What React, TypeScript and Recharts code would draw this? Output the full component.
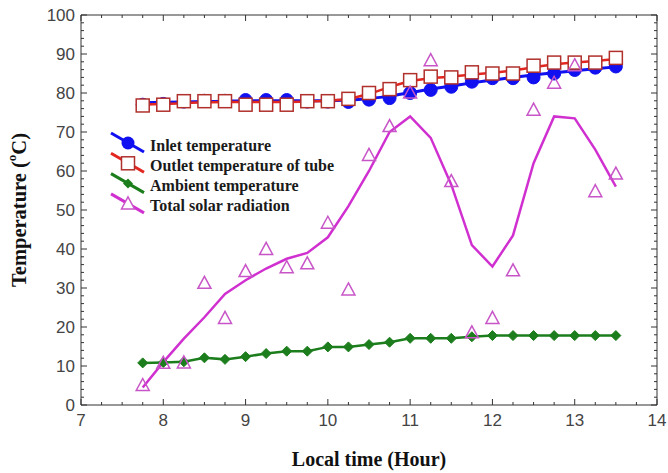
import React from 'react';
import { LineChart, Line, XAxis, YAxis, ReferenceArea, Label } from 'recharts';

const hours = [7.75, 8, 8.25, 8.5, 8.75, 9, 9.25, 9.5, 9.75, 10, 10.25, 10.5, 10.75, 11, 11.25, 11.5, 11.75, 12, 12.25, 12.5, 12.75, 13, 13.25, 13.5];

const inletPts = [77, 77.2, 77.8, 78, 78, 78.2, 78.2, 78.2, 77.8, 77.8, 77.7, 78.3, 78.7, 80, 80.8, 81.6, 82.9, 83.8, 83.8, 84, 85, 85.9, 86.5, 86.8];
const inletFit = [77.5, 77.6, 77.7, 77.8, 77.9, 78, 78, 78, 78, 78, 78.2, 78.6, 79.2, 80.1, 81, 81.8, 82.6, 83.3, 84, 84.6, 85.2, 85.7, 86.2, 86.7];

const outletPts = [76.8, 77, 77.9, 77.9, 77.9, 77, 77, 77, 77.9, 77.9, 78.5, 80, 81, 83.3, 84.2, 84, 85.3, 85, 85, 87, 87.8, 87.8, 87.8, 89];
const outletFit = [77, 77.2, 77.4, 77.6, 77.7, 77.7, 77.7, 77.7, 77.8, 78, 78.5, 79.8, 81.5, 83, 83.8, 84.2, 84.7, 85.2, 85.8, 86.6, 87.3, 87.8, 88.2, 88.7];

const ambient = [10.8, 10.9, 11.1, 12.1, 11.7, 12.4, 13.2, 13.8, 13.8, 14.9, 14.9, 15.5, 16.1, 17.1, 17.1, 17.1, 17.5, 17.8, 17.8, 17.8, 17.8, 17.8, 17.8, 17.8];

const solarPts = [5, 10.7, 10.8, 31.2, 22.2, 34.2, 39.9, 35.2, 36.2, 46.6, 29.5, 64, 71.4, 80, 88.3, 57.3, 18.5, 22.2, 34.4, 75.6, 82.5, 87, 54.7, 59.2];
const solarFit = [4.5, 11, 17, 22.5, 28.5, 32, 35, 37.5, 39, 43, 51, 60, 70, 74, 68.5, 56.5, 41, 35.5, 43.5, 62, 74, 73.5, 65.5, 56];

const xMajor = [7, 8, 9, 10, 11, 12, 13, 14];
const yMajor = [0, 10, 20, 30, 40, 50, 60, 70, 80, 90, 100];

const xTicks: number[] = [];
xMajor.forEach((v, i) => { xTicks.push(v); if (i < xMajor.length - 1) { xTicks.push(v + 0.25, v + 0.5, v + 0.75); } });
const yTicks: number[] = [];
yMajor.forEach((v, i) => { yTicks.push(v); if (i < yMajor.length - 1) { yTicks.push(v + 2, v + 4, v + 6, v + 8); } });

const rows = hours.map((h, i) => ({
  h,
  inletPts: inletPts[i], inletFit: inletFit[i],
  outletPts: outletPts[i], outletFit: outletFit[i],
  ambient: ambient[i],
  solarPts: solarPts[i], solarFit: solarFit[i],
}));

const W = 668, H = 473;
const L = 81, R = 657, T = 15, B = 405;

const BLUE = '#1010f0';
const RED = '#e32620';
const SQ = '#b0302c';
const GREEN = '#1c7d1c';
const MAG = '#d030d0';
const TRI = '#c855c8';
const SERIF = '"Liberation Serif", "Times New Roman", serif';
const SANS = '"Liberation Sans", Arial, sans-serif';

const isMajorX = (v: number) => Math.abs(v - Math.round(v)) < 1e-6;
const isMajorY = (v: number) => Math.abs(v % 10) < 1e-6;

const XTick = (props: any) => {
  const { x, payload } = props;
  const v = payload.value;
  const major = isMajorX(v);
  const len = major ? 6 : 3;
  return (
    <g>
      <line x1={x} x2={x} y1={B} y2={B - len} stroke="#333" strokeWidth={1} />
      <line x1={x} x2={x} y1={T} y2={T + len} stroke="#333" strokeWidth={1} />
      {major && (
        <text x={x} y={420} textAnchor="middle" dominantBaseline="central" fontFamily={SANS} fontSize={17} fill="#444">{v}</text>
      )}
    </g>
  );
};

const YTick = (props: any) => {
  const { y, payload } = props;
  const v = payload.value;
  const major = isMajorY(v);
  const len = major ? 6 : 3;
  return (
    <g>
      <line x1={L} x2={L + len} y1={y} y2={y} stroke="#333" strokeWidth={1} />
      <line x1={R} x2={R - len} y1={y} y2={y} stroke="#333" strokeWidth={1} />
      {major && (
        <text x={75} y={y} textAnchor="end" dominantBaseline="central" fontFamily={SANS} fontSize={17} fill="#444">{v}</text>
      )}
    </g>
  );
};

const YTitle = (props: any) => {
  const vb = props.viewBox || { x: 0, y: T, width: L, height: B - T };
  const cx = 19;
  const cy = vb.y + vb.height / 2;
  return (
    <text transform={`translate(${cx},${cy}) rotate(-90)`} textAnchor="middle" dominantBaseline="central" fontFamily={SERIF} fontWeight="bold" fontSize={20.5} fill="#111">
      <tspan>Temperature (</tspan>
      <tspan dy={-8} fontSize={13}>o</tspan>
      <tspan dy={8}>C)</tspan>
    </text>
  );
};

const circleDot = (p: any) => {
  if (p.cx == null || p.cy == null) return <g key={`c${p.index}`} />;
  return <circle key={`c${p.index}`} cx={p.cx} cy={p.cy} r={6.5} fill={BLUE} stroke={BLUE} />;
};
const squareDot = (p: any) => {
  if (p.cx == null || p.cy == null) return <g key={`s${p.index}`} />;
  return <rect key={`s${p.index}`} x={p.cx - 6.5} y={p.cy - 6.5} width={13} height={13} fill="#fff" stroke={SQ} strokeWidth={1.5} />;
};
const diamondDot = (p: any) => {
  if (p.cx == null || p.cy == null) return <g key={`d${p.index}`} />;
  const s = 5;
  return <polygon key={`d${p.index}`} points={`${p.cx},${p.cy - s} ${p.cx + s},${p.cy} ${p.cx},${p.cy + s} ${p.cx - s},${p.cy}`} fill={GREEN} stroke={GREEN} />;
};
const triDot = (p: any) => {
  if (p.cx == null || p.cy == null) return <g key={`t${p.index}`} />;
  return <polygon key={`t${p.index}`} points={`${p.cx},${p.cy - 7} ${p.cx + 6.5},${p.cy + 5} ${p.cx - 6.5},${p.cy + 5}`} fill="none" stroke={TRI} strokeWidth={1.5} />;
};

const legendItems = [
  { label: 'Inlet temperature', color: BLUE, kind: 'circle' },
  { label: 'Outlet temperature of tube', color: RED, kind: 'square' },
  { label: 'Ambient temperature', color: GREEN, kind: 'diamond' },
  { label: 'Total solar radiation', color: MAG, kind: 'tri' },
];

const LegendOverlay = () => (
  <svg width={W} height={H} style={{ position: 'absolute', left: 0, top: 0, pointerEvents: 'none' }}>
    {legendItems.map((it, i) => {
      const cy = 145 + i * 20.3;
      const mx = 128, my = cy - 2;
      let marker: React.ReactNode = null;
      if (it.kind === 'circle') marker = <circle cx={mx} cy={my} r={6.5} fill={BLUE} />;
      if (it.kind === 'square') marker = <rect x={mx - 6.5} y={my - 6.5} width={13} height={13} fill="#fff" stroke={SQ} strokeWidth={1.5} />;
      if (it.kind === 'diamond') marker = <polygon points={`${mx},${my - 5} ${mx + 5},${my} ${mx},${my + 5} ${mx - 5},${my}`} fill={GREEN} />;
      if (it.kind === 'tri') marker = <polygon points={`${mx},${my - 7} ${mx + 6.5},${my + 5} ${mx - 6.5},${my + 5}`} fill="#fff" stroke={TRI} strokeWidth={1.5} />;
      return (
        <g key={it.label}>
          <line x1={111} y1={cy - 12} x2={144} y2={cy + 7} stroke={it.color} strokeWidth={3} />
          {marker}
          <text x={150} y={cy} dominantBaseline="central" fontFamily={SERIF} fontWeight="bold" fontSize={16} fill="#1a1a1a">{it.label}</text>
        </g>
      );
    })}
  </svg>
);

export default function App() {
  return (
    <div style={{ position: 'absolute', left: 0, top: 0, width: W, height: H, background: '#fff' }}>
      <LineChart width={W} height={H} data={rows} margin={{ top: T, right: W - R, left: 0, bottom: 0 }}>
        <XAxis dataKey="h" type="number" domain={[7, 14]} ticks={xTicks} interval={0} tick={<XTick />} tickLine={false} axisLine={false} height={H - B} allowDataOverflow>
          <Label value="Local time (Hour)" position="insideBottom" offset={7} style={{ fontFamily: SERIF, fontWeight: 'bold', fontSize: 20, fill: '#111' }} />
        </XAxis>
        <YAxis type="number" domain={[0, 100]} ticks={yTicks} interval={0} tick={<YTick />} tickLine={false} axisLine={false} width={L} allowDataOverflow label={<YTitle />} />
        <Line dataKey="inletFit" stroke={BLUE} strokeWidth={3} dot={false} activeDot={false} isAnimationActive={false} type="monotone" />
        <Line dataKey="inletPts" stroke="none" dot={circleDot} activeDot={false} isAnimationActive={false} />
        <Line dataKey="outletPts" stroke="none" dot={squareDot} activeDot={false} isAnimationActive={false} />
        <Line dataKey="outletFit" stroke={RED} strokeWidth={2.5} dot={false} activeDot={false} isAnimationActive={false} type="monotone" />
        <Line dataKey="ambient" stroke={GREEN} strokeWidth={2.5} dot={diamondDot} activeDot={false} isAnimationActive={false} />
        <Line dataKey="solarPts" stroke="none" dot={triDot} activeDot={false} isAnimationActive={false} />
        <Line dataKey="solarFit" stroke={MAG} strokeWidth={2.5} dot={false} activeDot={false} isAnimationActive={false} />
        <ReferenceArea x1={7} x2={14} y1={0} y2={100} fill="none" stroke="#333" strokeWidth={1} ifOverflow="visible" />
      </LineChart>
      <LegendOverlay />
    </div>
  );
}
